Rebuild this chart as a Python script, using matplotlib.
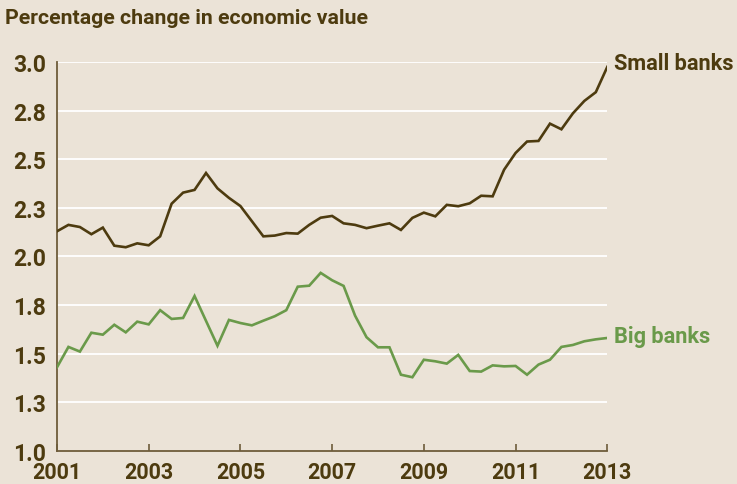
import numpy as np
import matplotlib
matplotlib.use('Agg')
from matplotlib import pyplot as plt

# quarterly observations, 2001Q1 .. 2013Q1
small_banks = [2.129, 2.162, 2.151, 2.114, 2.148, 2.055, 2.047, 2.067, 2.057, 2.103,
               2.271, 2.328, 2.342, 2.429, 2.350, 2.301, 2.259, 2.181, 2.103, 2.107,
               2.120, 2.117, 2.162, 2.199, 2.208, 2.170, 2.162, 2.145, 2.158, 2.170,
               2.136, 2.198, 2.225, 2.206, 2.265, 2.258, 2.273, 2.312, 2.309, 2.446,
               2.532, 2.591, 2.594, 2.683, 2.654, 2.736, 2.800, 2.845, 2.975]
big_banks = [1.429, 1.534, 1.510, 1.607, 1.597, 1.648, 1.609, 1.664, 1.650, 1.723,
             1.678, 1.683, 1.796, 1.668, 1.540, 1.673, 1.657, 1.645, 1.669, 1.692,
             1.723, 1.844, 1.849, 1.915, 1.877, 1.848, 1.695, 1.584, 1.532, 1.532,
             1.391, 1.378, 1.468, 1.460, 1.448, 1.493, 1.410, 1.407, 1.439, 1.434,
             1.436, 1.391, 1.443, 1.468, 1.534, 1.544, 1.563, 1.573, 1.580]
years = 2001 + np.arange(len(small_banks)) * 0.25

y_ticks = [1.0, 1.25, 1.5, 1.75, 2.0, 2.25, 2.5, 2.75, 3.0]
y_labels = ['1.0', '1.3', '1.5', '1.8', '2.0', '2.3', '2.5', '2.8', '3.0']
x_ticks = [2001, 2003, 2005, 2007, 2009, 2011, 2013]

bg = '#ebe3d7'
brown = '#4d3b0f'
green = '#6a9a4a'
spine_col = '#6e5c3a'

plt.rcParams['font.family'] = ['Roboto', 'DejaVu Sans']
plt.rcParams['font.weight'] = 'bold'

fig = plt.figure(figsize=(7.37, 4.85), dpi=100, facecolor=bg)
ax = fig.add_axes([0.0773, 0.0687, 0.7467, 0.8013])
ax.set_facecolor(bg)

ax.plot(years, small_banks, color=brown, lw=1.9, solid_joinstyle='miter', zorder=3)
ax.plot(years, big_banks, color=green, lw=1.9, solid_joinstyle='miter', zorder=3)

ax.set_xlim(2001, 2013)
ax.set_ylim(1.0, 3.0)
ax.set_yticks(y_ticks)
ax.set_yticklabels(y_labels)
ax.set_xticks(x_ticks)
ax.set_xticklabels([str(x) for x in x_ticks])

for y in y_ticks[1:]:
    ax.axhline(y, color='white', lw=1.3, zorder=1)

for s in ['top', 'right']:
    ax.spines[s].set_visible(False)
for s in ['left', 'bottom']:
    ax.spines[s].set_color(spine_col)
    ax.spines[s].set_linewidth(1.3)

ax.tick_params(axis='y', length=0, pad=8, labelsize=16.5, labelcolor=brown)
ax.tick_params(axis='x', direction='in', length=5, width=1.2, color=spine_col,
               pad=7.5, labelsize=15.5, labelcolor=brown)
for lbl in ax.get_yticklabels():
    lbl.set_verticalalignment('center_baseline')

ax.text(2013.15, small_banks[-1] + 0.02, 'Small banks', color=brown, fontsize=15.7,
        fontweight='bold', va='center', ha='left', clip_on=False)
ax.text(2013.15, big_banks[-1] + 0.01, 'Big banks', color=green, fontsize=15.7,
        fontweight='bold', va='center', ha='left', clip_on=False)

fig.text(0.007, 0.962, 'Percentage change in economic value', color=brown,
         fontsize=15.3, fontweight='bold', va='center', ha='left')

fig.savefig('out.png', dpi=100, facecolor=bg)
